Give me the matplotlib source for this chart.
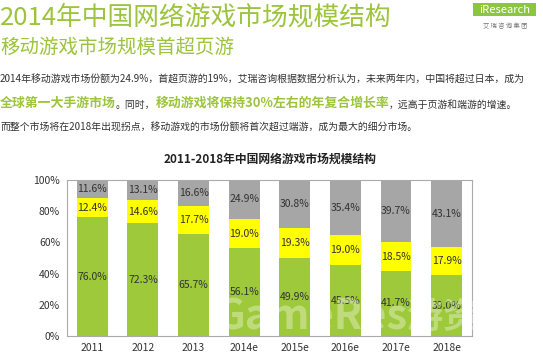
import numpy as np
import matplotlib
matplotlib.use("Agg")
import matplotlib.pyplot as plt
from matplotlib.patches import Rectangle
from matplotlib.text import Annotation

plt.rcParams['font.family'] = ['Noto Sans CJK SC', 'DejaVu Sans']

# data
years = ['2011', '2012', '2013', '2014e', '2015e', '2016e', '2017e', '2018e']
client = [76.0, 72.3, 65.7, 56.1, 49.9, 45.5, 41.7, 39.0]
web = [12.4, 14.6, 17.7, 19.0, 19.3, 19.0, 18.5, 17.9]
mobile = [11.6, 13.1, 16.6, 24.9, 30.8, 35.4, 39.7, 43.1]
yticks = [0, 20, 40, 60, 80, 100]

green = '#9dc93a'
yellow = '#ffff00'
gray = '#a6a6a6'
title_green = '#9cc43c'
txt = '#333333'

fig = plt.figure(figsize=(5.43, 3.56), dpi=100)

# header texts
fig.text(0.0, 0.952, '2014年中国网络游戏市场规模结构', fontsize=18.5, color=title_green,
         va='center', ha='left')
fig.text(0.0, 0.868, '移动游戏市场规模首超页游', fontsize=14, color=title_green,
         va='center', ha='left')

fig.text(0.0, 0.778, '2014年移动游戏市场份额为24.9%，首超页游的19%，艾瑞咨询根据数据分析认为，未来两年内，中国将超过日本，成为',
         fontsize=7.15, color=txt, va='center', ha='left')


def after(prev, s, **kw):
    # place a text piece right after the previous one, same baseline
    a = Annotation(s, xy=(1, 0), xycoords=prev, va='bottom', ha='left',
                   annotation_clip=False, **kw)
    fig.add_artist(a)
    return a


# second line with highlighted pieces
t1 = fig.text(0.0, 0.700, '全球第一大手游市场', fontsize=9.3, color=title_green,
              fontweight='bold', va='baseline', ha='left')
t2 = after(t1, '。同时，', fontsize=7.1, color=txt)
t3 = after(t2, '移动游戏将保持30%左右的年复合增长率', fontsize=9.3, color=title_green,
           fontweight='bold')
t4 = after(t3, '，远高于页游和端游的增速。', fontsize=7.1, color=txt)

fig.text(0.0, 0.645, '而整个市场将在2018年出现拐点，移动游戏的市场份额将首次超过端游，成为最大的细分市场。',
         fontsize=7.1, color=txt, va='center', ha='left')

# iResearch logo
fig.patches.append(Rectangle((0.872, 0.955), 0.115, 0.037, transform=fig.transFigure,
                             facecolor='#8cc63f', edgecolor='none'))
fig.text(0.930, 0.973, 'iResearch', fontsize=8, color='white', ha='center', va='center')
fig.text(0.930, 0.925, '艾 瑞 咨 询 集 团', fontsize=4.5, color='#777777', ha='center', va='center')

# chart
ax = fig.add_axes([0.1234, 0.0562, 0.7456, 0.4382])
x = np.arange(len(years))
w = 0.61
client = np.array(client)
web = np.array(web)
mobile = np.array(mobile)
ax.bar(x, client, w, color=green, zorder=2)
ax.bar(x, web, w, bottom=client, color=yellow, zorder=2)
ax.bar(x, mobile, w, bottom=client + web, color=gray, zorder=2)

for i in range(len(years)):
    ax.text(x[i], client[i] / 2, f'{client[i]:.1f}%', ha='center', va='center', fontsize=7.5, color=txt)
    ax.text(x[i], client[i] + web[i] / 2, f'{web[i]:.1f}%', ha='center', va='center', fontsize=7.5, color=txt)
    ax.text(x[i], client[i] + web[i] + mobile[i] / 2, f'{mobile[i]:.1f}%', ha='center', va='center',
            fontsize=7.5, color=txt)

ax.set_xlim(-0.5, len(years) - 0.5)
ax.set_ylim(0, 100)
ax.set_yticks(yticks)
ax.set_yticklabels([f'{v}%' for v in yticks], fontsize=7.5, color=txt)
ax.set_xticks(x)
ax.set_xticklabels(years, fontsize=7.5, color=txt)
ax.tick_params(length=0, pad=5)
for s in ax.spines.values():
    s.set_color('#aaaaaa')
    s.set_linewidth(0.8)

fig.text(0.497, 0.553, '2011-2018年中国网络游戏市场规模结构', fontsize=8.5, fontweight='bold',
         color='#222222', ha='center', va='center')

# watermark
fig.text(0.575, 0.107, 'GameRes', fontsize=30, fontweight='bold', color='white', alpha=0.35,
         ha='center', va='center', zorder=10)
fig.text(0.85, 0.107, '游资网', fontsize=26, fontweight='bold', color='white', alpha=0.35,
         ha='center', va='center', zorder=10)

fig.savefig('out.png', dpi=100)
